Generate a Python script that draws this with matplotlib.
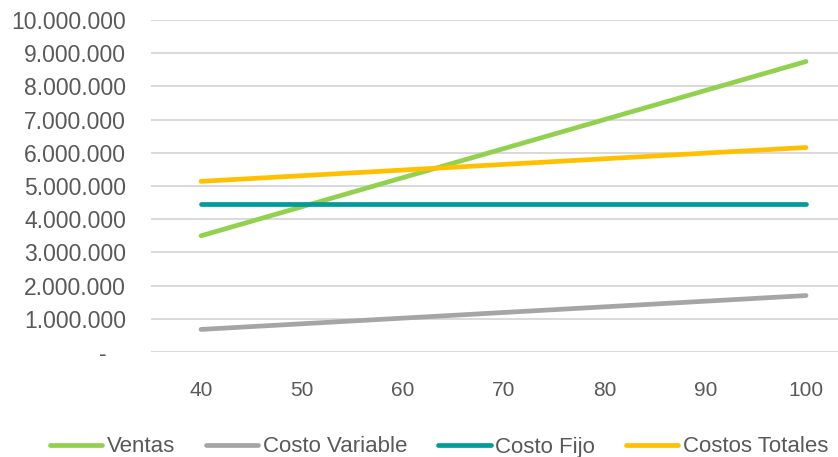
import matplotlib.pyplot as plt
from matplotlib.ticker import FuncFormatter, MultipleLocator

plt.rcParams['font.family'] = ['Liberation Sans', 'DejaVu Sans']

# unidades vendidas y montos por escenario
unidades = [40, 50, 60, 70, 80, 90, 100]
ventas = [3500000, 4375000, 5250000, 6125000, 7000000, 7875000, 8750000]
costo_variable = [680000, 850000, 1020000, 1190000, 1360000, 1530000, 1700000]
costo_fijo = [4460000, 4460000, 4460000, 4460000, 4460000, 4460000, 4460000]
costos_totales = [5140000, 5310000, 5480000, 5650000, 5820000, 5990000, 6160000]

series = [
    ("Ventas", ventas, "#92D050"),
    ("Costo Variable", costo_variable, "#A5A5A5"),
    ("Costo Fijo", costo_fijo, "#009B9B"),
    ("Costos Totales", costos_totales, "#FFC000"),
]

gris_texto = "#595959"

fig = plt.figure(figsize=(8.38, 4.57), dpi=100)
ax = fig.add_axes([151 / 838, 1 - 352 / 457, 687 / 838, 332 / 457])

for nombre, valores, color in series:
    ax.plot(unidades, valores, color=color, lw=3.4, label=nombre,
            solid_capstyle='round', zorder=3)

ax.set_xlim(35.04, 103.17)
ax.set_ylim(0, 10000000)
ax.set_xticks(unidades)
ax.yaxis.set_major_locator(MultipleLocator(1000000))


def miles(v, pos):
    # formato contable: separador de miles con punto, cero como guion
    if v == 0:
        return "-   "
    return f"{int(round(v)):,}".replace(",", ".")


ax.yaxis.set_major_formatter(FuncFormatter(miles))
ax.grid(axis='y', color="#D9D9D9", lw=1.4, zorder=0)
ax.set_axisbelow(True)
for s in ax.spines.values():
    s.set_visible(False)
ax.tick_params(axis='y', length=0, pad=18, labelsize=16.5, labelcolor=gris_texto)
ax.tick_params(axis='x', length=0, pad=21, labelsize=15, labelcolor=gris_texto)

fig.legend(loc='center', bbox_to_anchor=(0.524, 1 - 447 / 457), ncol=4,
           frameon=False, fontsize=16, labelcolor=gris_texto,
           handlelength=2.35, handletextpad=0.2, columnspacing=1.4)

fig.savefig("out.png", dpi=100)
